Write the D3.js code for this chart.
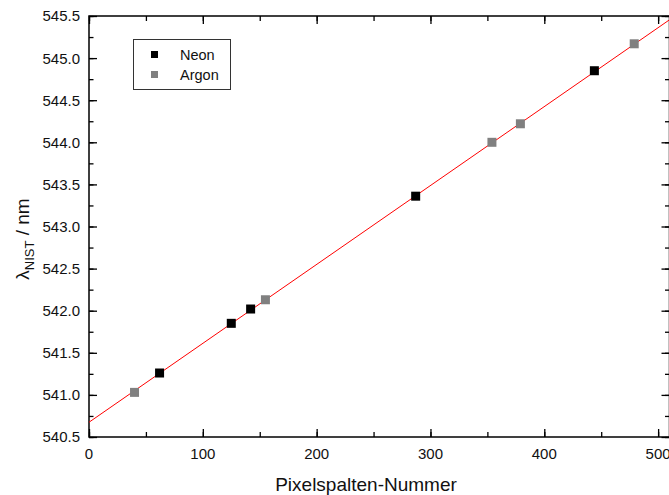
<!DOCTYPE html>
<html>
<head>
<meta charset="utf-8">
<script src="https://d3js.org/d3.v7.min.js"></script>
<style>
  body { margin: 0; background: #fff; }
  svg { display: block; font-family: "Liberation Sans", Arial, sans-serif; }
</style>
</head>
<body>
<svg id="chart" width="669" height="495"></svg>
<script>
// pixel column vs. NIST wavelength (nm)
const neonX = [62, 125, 142, 287, 444];
const neonY = [541.26, 541.85, 542.02, 543.36, 544.85];
const argonX = [40, 155, 354, 379, 479];
const argonY = [541.03, 542.13, 544.00, 544.22, 545.17];
// linear fit
const fitX = [0, 510];
const fitY = [540.675, 545.455];
const xTicks = [0, 100, 200, 300, 400, 500];
const yTicks = [540.5, 541.0, 541.5, 542.0, 542.5, 543.0, 543.5, 544.0, 544.5, 545.0, 545.5];
const legendNames = ["Neon", "Argon"];
const legendColors = ["#000000", "#808080"];

const svg = d3.select("#chart");
const pLeft = 89, pRight = 669.5, pTop = 16, pBottom = 437;

const x = d3.scaleLinear().domain([0, 510]).range([pLeft, pRight]);
const y = d3.scaleLinear().domain([540.5, 545.5]).range([pBottom, pTop]);

svg.append("clipPath").attr("id", "clip")
  .append("rect").attr("x", pLeft).attr("y", pTop)
  .attr("width", pRight - pLeft).attr("height", pBottom - pTop);

const xMinor = d3.range(0, 511, 50);
const yMinor = d3.range(540.5, 545.51, 0.25);

// axes: ticks point inward, labels only on bottom/left
function styleAxis(g) {
  g.select(".domain").remove();
  g.selectAll("line").attr("stroke", "#000").attr("stroke-width", 1.3);
}

svg.append("g").attr("transform", "translate(0," + pBottom + ")")
  .call(d3.axisTop(x).tickValues(xMinor).tickSize(5).tickFormat(""))
  .call(styleAxis);
svg.append("g").attr("transform", "translate(0," + pBottom + ")")
  .call(d3.axisTop(x).tickValues(xTicks).tickSize(8).tickFormat(""))
  .call(styleAxis);
svg.append("g").attr("transform", "translate(0," + pTop + ")")
  .call(d3.axisBottom(x).tickValues(xMinor).tickSize(5).tickFormat(""))
  .call(styleAxis);
svg.append("g").attr("transform", "translate(0," + pTop + ")")
  .call(d3.axisBottom(x).tickValues(xTicks).tickSize(8).tickFormat(""))
  .call(styleAxis);

svg.append("g").attr("transform", "translate(" + pLeft + ",0)")
  .call(d3.axisRight(y).tickValues(yMinor).tickSize(4.5).tickFormat(""))
  .call(styleAxis);
svg.append("g").attr("transform", "translate(" + pLeft + ",0)")
  .call(d3.axisRight(y).tickValues(yTicks).tickSize(8).tickFormat(""))
  .call(styleAxis);
svg.append("g").attr("transform", "translate(" + pRight + ",0)")
  .call(d3.axisLeft(y).tickValues(yMinor).tickSize(4.5).tickFormat(""))
  .call(styleAxis);
svg.append("g").attr("transform", "translate(" + pRight + ",0)")
  .call(d3.axisLeft(y).tickValues(yTicks).tickSize(8).tickFormat(""))
  .call(styleAxis);

// tick labels
svg.append("g").selectAll("text").data(xTicks).enter().append("text")
  .attr("x", d => x(d)).attr("y", 459)
  .attr("text-anchor", "middle").attr("font-size", "15px").attr("fill", "#111")
  .text(d => d);
svg.append("g").selectAll("text").data(yTicks).enter().append("text")
  .attr("x", 80).attr("y", d => y(d)).attr("dy", "0.36em")
  .attr("text-anchor", "end").attr("font-size", "15px").attr("fill", "#111")
  .text(d => d3.format(".1f")(d));

// frame
svg.append("rect").attr("x", pLeft).attr("y", pTop)
  .attr("width", pRight - pLeft).attr("height", pBottom - pTop)
  .attr("fill", "none").attr("stroke", "#000").attr("stroke-width", 1.5);

// fit line
svg.append("line").attr("clip-path", "url(#clip)")
  .attr("x1", x(fitX[0])).attr("y1", y(fitY[0]))
  .attr("x2", x(fitX[1])).attr("y2", y(fitY[1]))
  .attr("stroke", "#ff0000").attr("stroke-width", 1);

// points
const ms = 9;
svg.append("g").selectAll("rect").data(d3.zip(neonX, neonY)).enter().append("rect")
  .attr("x", d => x(d[0]) - ms / 2).attr("y", d => y(d[1]) - ms / 2)
  .attr("width", ms).attr("height", ms).attr("fill", legendColors[0]);
svg.append("g").selectAll("rect").data(d3.zip(argonX, argonY)).enter().append("rect")
  .attr("x", d => x(d[0]) - ms / 2).attr("y", d => y(d[1]) - ms / 2)
  .attr("width", ms).attr("height", ms).attr("fill", legendColors[1]);

// legend
const leg = svg.append("g");
leg.append("rect").attr("x", 133.5).attr("y", 39.5).attr("width", 97).attr("height", 50)
  .attr("fill", "#fff").attr("stroke", "#333").attr("stroke-width", 1);
leg.selectAll(".m").data(legendNames).enter().append("rect")
  .attr("x", 151).attr("y", (d, i) => 51 + i * 20).attr("width", 7).attr("height", 7)
  .attr("fill", (d, i) => legendColors[i]);
leg.selectAll("text").data(legendNames).enter().append("text")
  .attr("x", 180).attr("y", (d, i) => 59.5 + i * 20)
  .attr("font-size", "14.5px").attr("fill", "#111")
  .text(d => d);

// axis titles
svg.append("text").attr("x", 366).attr("y", 491)
  .attr("text-anchor", "middle").attr("font-size", "19px").attr("fill", "#111")
  .text("Pixelspalten-Nummer");

const yt = svg.append("text")
  .attr("transform", "translate(29,239) rotate(-90)")
  .attr("text-anchor", "middle").attr("font-size", "19px").attr("fill", "#111");
yt.append("tspan").text("λ");
yt.append("tspan").attr("font-size", "13px").attr("dy", 5).text("NIST");
yt.append("tspan").attr("dy", -5).text(" / nm");
</script>
</body>
</html>
